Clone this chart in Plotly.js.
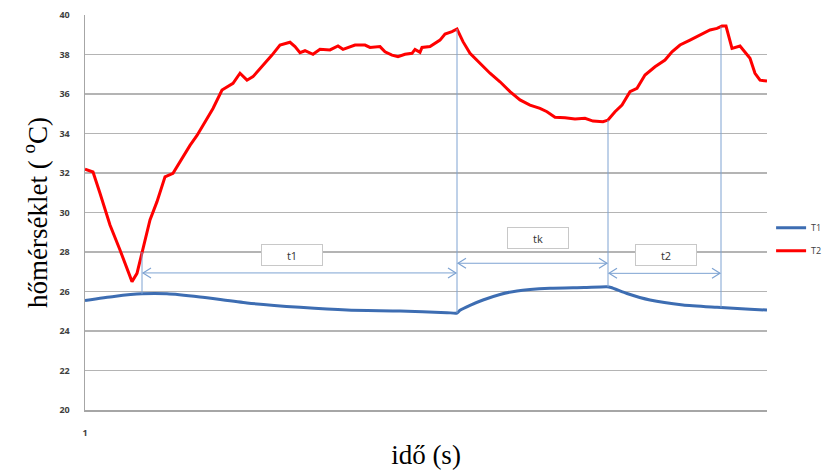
<!DOCTYPE html>
<html>
<head>
<meta charset="utf-8">
<script src="https://cdn.plot.ly/plotly-3.0.1.min.js"></script>
<style>html,body{margin:0;padding:0;background:#fff;}#chart{width:828px;height:470px;}</style>
</head>
<body>
<div id="chart"></div>
<script>
// Sample index (idő) and temperatures
const t2x = [1,9,16,26,36,44,48,53,58,66,73,81,89,94,106,113,129,138,149,156,163,169,178,188,196,206,211,216,221,229,236,246,254,259,271,281,286,296,301,308,314,321,328,331,336,338,346,356,361,368,373,379,386,396,406,416,426,436,446,456,463,471,481,491,501,509,519,524,531,538,546,553,561,571,581,588,596,606,616,626,633,638,642,648,656,661,666,671,676,683];
const t2y = [32.2,32.05,30.97,29.37,28.1,27.0,26.5,26.92,28.0,29.62,30.55,31.81,31.98,32.41,33.4,33.9,35.27,36.2,36.54,37.05,36.7,36.88,37.38,37.97,38.48,38.62,38.4,38.09,38.19,38.01,38.26,38.23,38.43,38.26,38.48,38.48,38.36,38.4,38.14,37.97,37.89,38.01,38.06,38.26,38.11,38.36,38.4,38.73,39.04,39.16,39.29,38.65,38.06,37.55,37.05,36.62,36.12,35.7,35.44,35.27,35.1,34.82,34.8,34.73,34.77,34.63,34.6,34.68,35.1,35.44,36.12,36.29,36.96,37.38,37.72,38.14,38.48,38.73,38.99,39.24,39.32,39.44,39.44,38.31,38.43,38.14,37.81,37.05,36.7,36.66];
const t1x = [1,30,58,83,116,163,216,263,316,363,373,376,386,399,416,433,466,500,523,527,543,566,599,633,666,683];
const t1y = [25.55,25.75,25.88,25.88,25.72,25.42,25.2,25.06,25.01,24.93,24.91,25.05,25.3,25.57,25.85,26.03,26.16,26.2,26.24,26.2,25.9,25.57,25.32,25.2,25.1,25.06];
const seriesNames = ['T1','T2'];
const xTicks = [1];
// Interval markers: boundaries (sample index), labels, arrow level and label level (°C)
const markX = [58, 373, 524, 637];
const spanLabels = ['t1','tk','t2'];
const spanArrowY = [26.94, 27.43, 26.92];
const spanLabelX = [208, 454, 582];
const spanLabelY = [27.85, 28.69, 27.87];

const X_RANGE = [1, 683], Y_RANGE = [20, 40];
const M = {l:85, r:61, t:15, b:60, autoexpand:false};
const W = 828, H = 470;
const pxX = (X_RANGE[1]-X_RANGE[0])/(W-M.l-M.r);
const pxY = (Y_RANGE[1]-Y_RANGE[0])/(H-M.t-M.b);

function interp(xs, ys, x){
  for(let i=0;i<xs.length-1;i++){
    if(x>=xs[i] && x<=xs[i+1]){
      const f=(x-xs[i])/(xs[i+1]-xs[i]); return ys[i]+f*(ys[i+1]-ys[i]);
    }
  }
  return ys[ys.length-1];
}

const guide = '#7ea3d2';
const shapes = [];
markX.forEach(x=>{
  shapes.push({type:'line', xref:'x', yref:'y', x0:x, x1:x, y0:interp(t1x,t1y,x), y1:interp(t2x,t2y,x), line:{color:guide, width:1}});
});
const annotations = [];
spanLabels.forEach((lab,i)=>{
  const xa = markX[i], xb = markX[i+1], y = spanArrowY[i];
  shapes.push({type:'line', xref:'x', yref:'y', x0:xa+1*pxX, x1:xb-1*pxX, y0:y, y1:y, line:{color:guide, width:1}});
  const hl = 8, hw = 5;
  shapes.push({type:'path', xref:'x', yref:'y',
    path:`M${xa+(1+hl)*pxX},${y+hw*pxY} L${xa+1*pxX},${y} L${xa+(1+hl)*pxX},${y-hw*pxY}`,
    line:{color:guide, width:1.2}});
  shapes.push({type:'path', xref:'x', yref:'y',
    path:`M${xb-(1+hl)*pxX},${y+hw*pxY} L${xb-1*pxX},${y} L${xb-(1+hl)*pxX},${y-hw*pxY}`,
    line:{color:guide, width:1.2}});
  annotations.push({x:spanLabelX[i], y:spanLabelY[i], xref:'x', yref:'y', text:lab, showarrow:false,
    width:58, height:18, bgcolor:'#ffffff', bordercolor:'#c8c8c8', borderwidth:1, borderpad:1,
    font:{family:'Open Sans, sans-serif', size:11, color:'#333333'}});
});

const traces = [
  {x:t1x, y:t1y, name:seriesNames[0], legendgroup:'a', type:'scatter', mode:'lines', line:{color:'#3d6db2', width:3, shape:'spline', smoothing:0.6}},
  {x:t2x, y:t2y, name:seriesNames[1], legendgroup:'b', type:'scatter', mode:'lines', line:{color:'#ff0000', width:3}}
];

const layout = {
  width:W, height:H, margin:M, paper_bgcolor:'#ffffff', plot_bgcolor:'#ffffff',
  showlegend:true,
  legend:{x:1.006, xanchor:'left', y:0.498, yanchor:'top', traceorder:'grouped', tracegroupgap:4,
    font:{family:'Open Sans, sans-serif', size:9, color:'#404040'}, itemwidth:30, bgcolor:'rgba(0,0,0,0)'},
  xaxis:{range:X_RANGE, tickvals:xTicks, ticktext:xTicks.map(String), showgrid:false, zeroline:false,
    showline:true, linecolor:'#a6a6a6', linewidth:1.5, ticks:'', ticklabelstandoff:14,
    tickfont:{family:'Open Sans, sans-serif', size:9, color:'#404040', weight:'bold'},
    title:{text:'idő (s)', font:{family:'Liberation Serif, serif', size:27, color:'#000000'}, standoff:12}},
  yaxis:{range:Y_RANGE, dtick:2, tick0:20, showgrid:true, gridcolor:'#b4b4b4', gridwidth:1.5, zeroline:false,
    showline:true, linecolor:'#a6a6a6', linewidth:1.5, ticks:'', ticklabelstandoff:12,
    tickfont:{family:'Open Sans, sans-serif', size:9, color:'#404040', weight:'bold'},
    title:{text:'hőmérséklet ( <sup>o</sup>C)', font:{family:'Liberation Serif, serif', size:27, color:'#000000'}, standoff:4}},
  shapes:shapes, annotations:annotations
};
Plotly.newPlot('chart', traces, layout, {displayModeBar:false, staticPlot:true});
</script>
</body>
</html>
